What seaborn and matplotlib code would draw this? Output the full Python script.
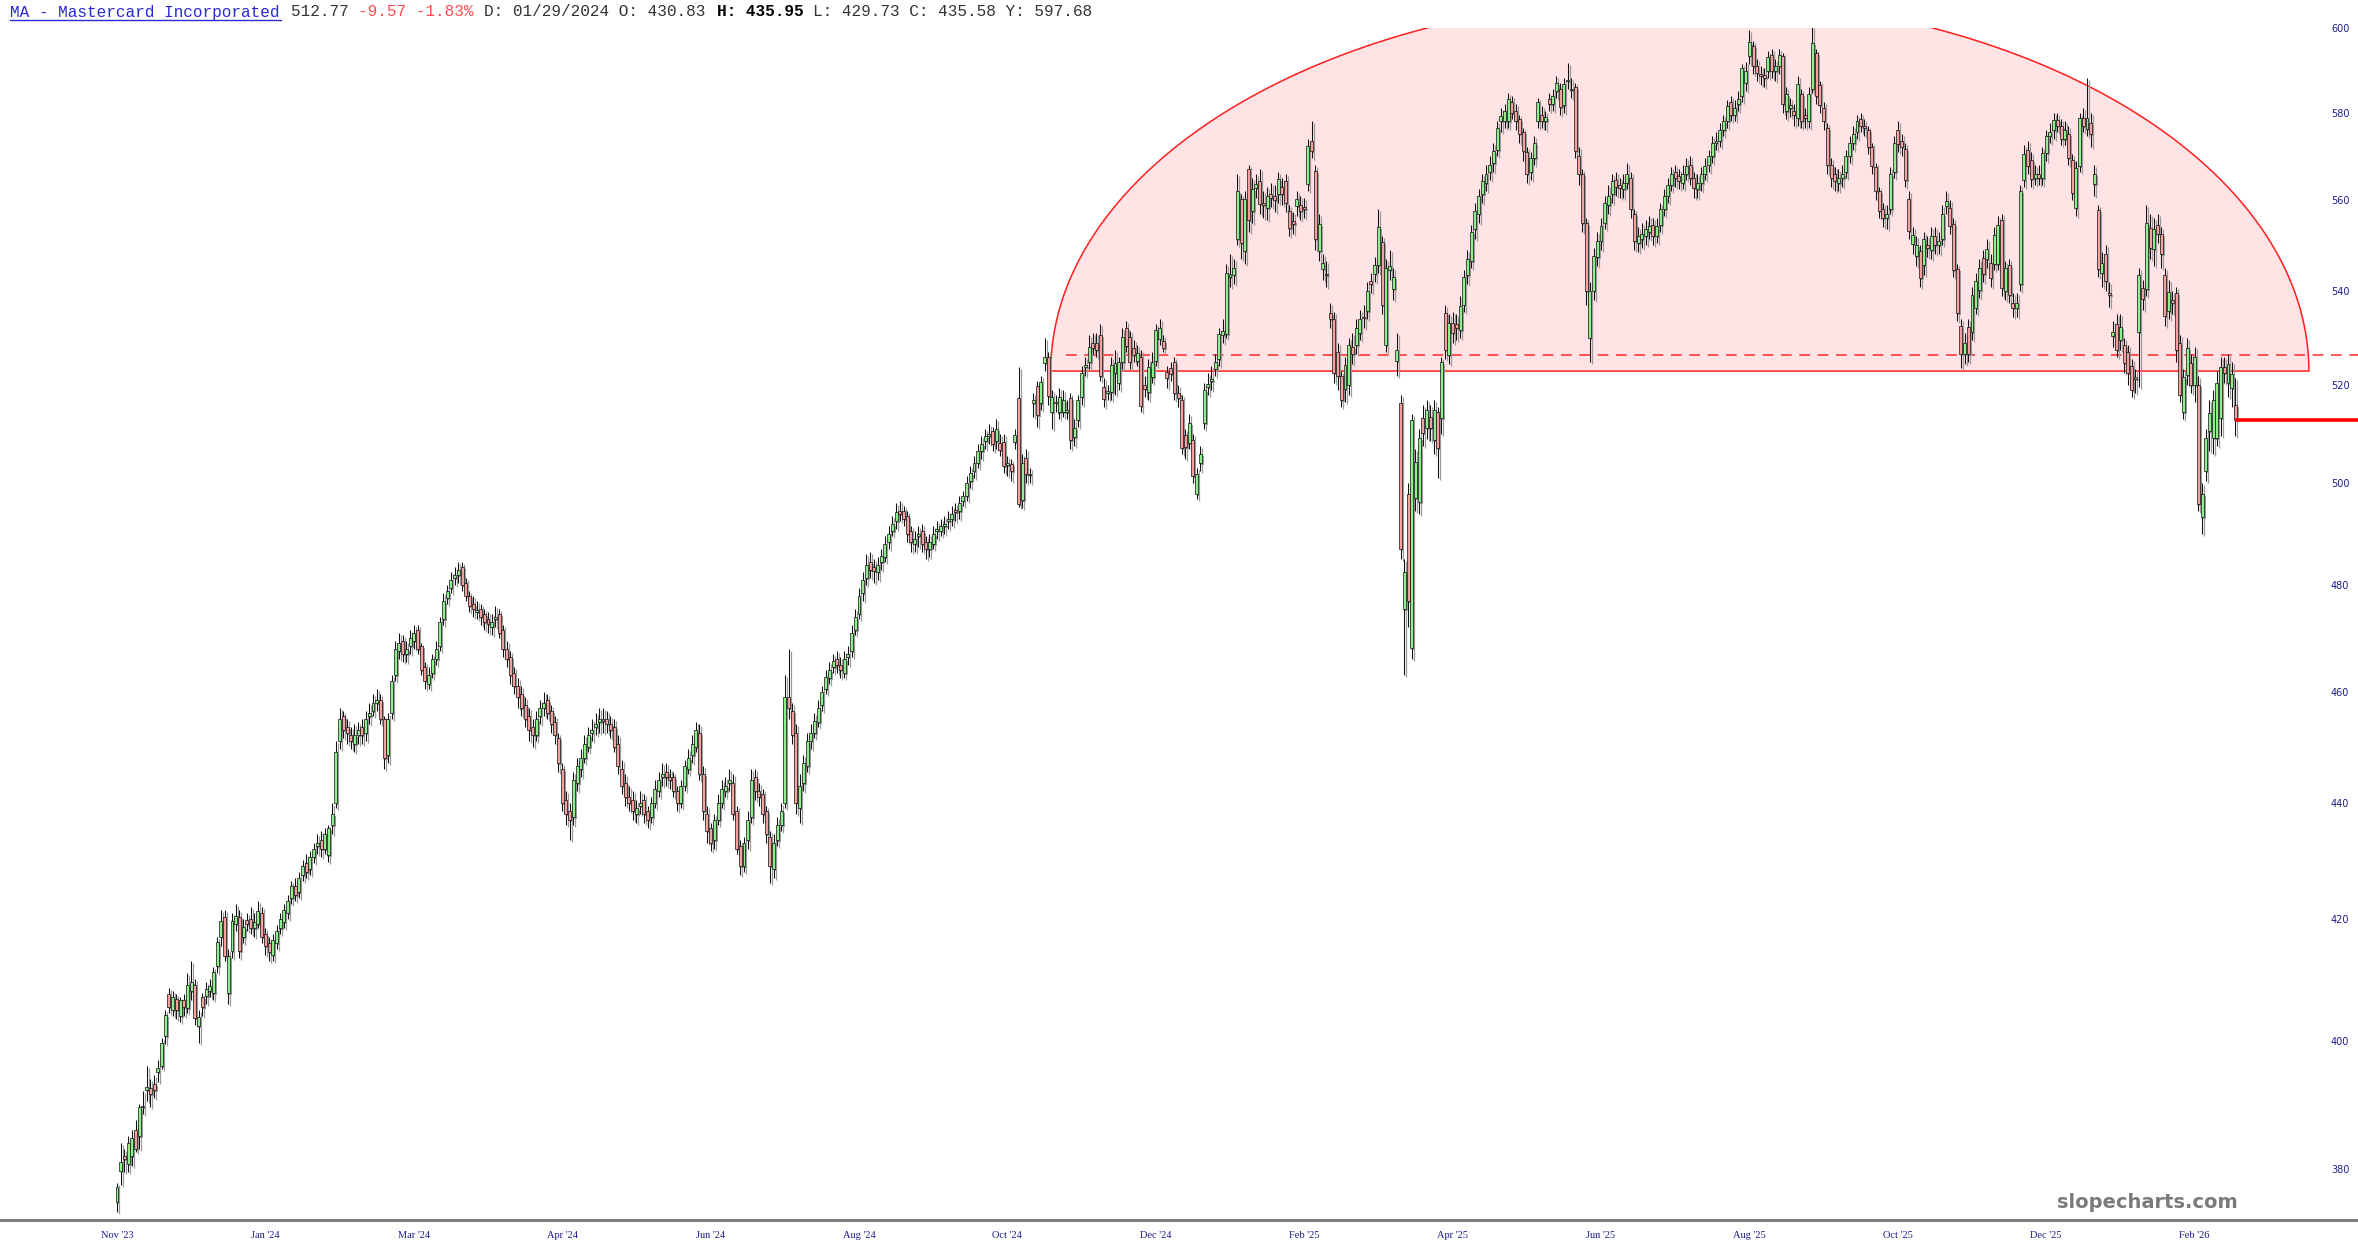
import numpy as np
import matplotlib
matplotlib.use("Agg")
import matplotlib.pyplot as plt
import matplotlib.transforms as mtransforms
from matplotlib.ticker import NullLocator
import seaborn as sns

# daily candles, Nov '23 .. Feb '26
opens = [
    375.0, 379.6, 382.0, 380.8, 382.0, 386.0, 385.0, 389.5, 392.2, 392.5,
    393.2, 395.0, 396.0, 400.8, 407.5, 405.0, 406.7, 404.0, 406.5, 405.3,
    408.0, 409.1, 402.3, 407.0, 407.2, 408.0, 407.8, 412.1, 416.9, 420.3,
    407.8, 414.6, 419.1, 420.3, 417.0, 419.8, 420.0, 418.5, 419.1, 421.0,
    417.5, 416.0, 414.0, 416.0, 418.5, 419.5, 421.0, 423.5, 425.5, 424.5,
    427.5, 429.5, 428.5, 430.5, 432.5, 433.5, 432.0, 430.8, 436.0, 440.0,
    451.0, 455.5, 453.5, 452.0, 450.5, 452.0, 453.5, 452.5, 455.5, 456.5,
    458.0, 458.5, 455.0, 448.5, 456.0, 463.0, 467.5, 469.5, 467.0, 468.5,
    469.5, 471.5, 468.5, 464.5, 461.5, 463.5, 466.0, 468.5, 473.5, 477.5,
    479.5, 481.5, 482.0, 483.5, 480.5, 478.0, 476.5, 475.0, 475.5, 474.5,
    473.5, 472.0, 473.5, 474.5, 471.5, 468.0, 466.5, 463.5, 461.0, 459.5,
    457.5, 455.5, 453.5, 452.0, 455.5, 457.0, 458.5, 456.5, 454.5, 451.5,
    446.0, 440.5, 438.5, 437.5, 443.5, 446.0, 448.0, 450.0, 452.5, 453.5,
    454.5, 455.0, 455.0, 454.0, 453.5, 450.5, 446.0, 443.5, 441.0, 440.5,
    438.0, 439.5, 440.5, 438.5, 437.5, 440.0, 442.0, 444.5, 445.5, 444.5,
    444.5, 442.0, 440.0, 443.0, 446.0, 448.5, 450.0, 452.5, 445.0, 438.0,
    435.5, 433.5, 437.0, 440.0, 442.0, 443.5, 443.5, 438.5, 432.5, 429.0,
    433.5, 437.5, 444.5, 442.0, 441.5, 438.5, 434.0, 428.5, 433.5, 436.0,
    440.0, 459.0, 456.5, 452.5, 439.0, 443.5, 446.5, 451.0, 452.5, 454.5,
    457.5, 460.5, 462.5, 464.5, 466.0, 465.0, 463.5, 466.5, 467.5, 471.5,
    474.5, 478.5, 481.5, 484.5, 483.5, 482.5, 484.5, 485.5, 488.5, 490.5,
    492.5, 494.5, 494.5, 493.5, 490.5, 488.0, 489.5, 490.5, 488.5, 487.0,
    488.0, 490.5, 490.5, 491.5, 492.5, 493.0, 494.5, 494.5, 496.5, 497.5,
    500.5, 502.5, 504.0, 506.5, 508.5, 509.5, 510.5, 508.5, 508.2, 508.4,
    503.6, 503.8, 508.4, 517.3, 496.6, 505.2, 501.6, 516.4, 519.8, 516.3,
    524.7, 526.0, 514.5, 516.3, 514.5, 514.5, 514.5, 517.3, 509.4, 512.8,
    517.6, 523.8, 524.9, 528.9, 529.0, 530.6, 519.6, 518.5, 518.6, 522.5,
    520.5, 524.9, 532.1, 530.2, 527.8, 525.2, 526.0, 520.0, 518.6, 521.8,
    525.2, 529.8, 529.4, 522.8, 523.6, 524.9, 518.4, 516.9, 509.8, 508.2,
    508.8, 497.8, 504.0, 512.3, 519.6, 521.0, 523.5, 525.6, 530.5, 530.9,
    543.0, 543.4, 551.4, 560.3, 548.8, 567.0, 557.6, 562.8, 564.4, 559.5,
    558.3, 561.5, 561.0, 561.5, 563.0, 564.4, 557.6, 555.4, 558.7, 559.0,
    558.5, 563.7, 573.4, 566.6, 548.8, 544.9, 543.8, 535.2, 534.0, 527.0,
    521.9, 519.2, 520.1, 528.0, 528.4, 531.0, 534.5, 535.8, 542.3, 543.8,
    545.6, 550.7, 528.4, 544.5, 540.5, 525.2, 516.3, 475.5, 497.8, 468.1,
    497.0, 496.2, 513.2, 511.2, 513.5, 508.8, 514.5, 513.2, 535.2, 526.3,
    533.1, 533.0, 531.6, 537.0, 543.5, 546.5, 553.5, 557.0, 561.5, 564.0,
    566.5, 568.5, 571.5, 578.0, 578.0, 578.0, 582.5, 580.5, 578.5, 575.5,
    571.0, 566.5, 569.5, 578.0, 579.5, 578.0, 583.2, 582.0, 585.0, 585.6,
    581.9, 587.4, 585.3, 586.0, 570.0, 566.0, 555.0, 530.0, 540.0, 547.5,
    551.0, 555.0, 559.0, 561.5, 564.5, 563.5, 562.5, 564.0, 565.0, 557.0,
    550.5, 551.5, 552.0, 553.0, 554.5, 552.0, 554.5, 558.0, 561.0, 563.5,
    566.5, 565.5, 564.0, 566.0, 568.0, 565.0, 562.5, 564.0, 566.0, 568.0,
    570.0, 573.0, 573.5, 576.0, 578.0, 582.5, 579.5, 582.0, 583.8, 586.9,
    593.3, 595.7, 590.9, 589.0, 588.8, 589.7, 593.5, 589.7, 590.9, 593.3,
    580.5, 581.0, 580.5, 578.7, 584.3, 579.5, 578.0, 585.5, 594.0, 586.4,
    581.0, 576.5, 568.0, 566.0, 564.0, 565.0, 566.5, 570.0, 573.0, 575.5,
    578.5, 577.0, 576.0, 572.0, 567.5, 562.0, 558.0, 556.0, 558.0, 566.5,
    576.0, 573.5, 571.6, 560.3, 550.2, 547.7, 548.8, 545.6, 550.0, 549.0,
    552.0, 550.0, 551.5, 558.7, 558.2, 554.7, 544.9, 532.5, 526.6, 532.3,
    531.2, 536.4, 540.3, 547.3, 546.9, 546.2, 546.0, 546.0, 555.5, 540.0,
    545.6, 537.5, 536.4, 541.6, 564.6, 571.5, 569.2, 565.0, 566.0, 565.0,
    570.6, 574.5, 575.9, 578.2, 577.0, 574.0, 575.0, 569.2, 558.2, 567.7,
    578.7, 576.2, 577.6, 563.7, 557.8, 544.0, 548.1, 539.7, 530.4, 533.0,
    529.5, 528.4, 527.0, 524.0, 521.8, 531.2, 540.7, 540.5, 553.8, 549.2,
    554.5, 552.5, 543.4, 535.8, 538.0, 539.5, 528.9, 514.5, 522.2, 524.7,
    520.0, 520.0, 493.3, 502.4, 510.6, 509.2, 509.2, 513.2, 523.8, 520.6,
    519.4, 515.9,
]
closes = [
    377.2, 381.0, 381.5, 383.9, 384.8, 383.0, 389.5, 389.7, 392.7, 391.5,
    392.2, 395.6, 399.6, 404.2, 405.5, 407.0, 404.9, 406.5, 405.5, 409.1,
    409.6, 403.7, 403.9, 405.5, 408.4, 408.8, 411.1, 416.1, 419.6, 413.8,
    413.8, 419.6, 420.5, 414.6, 418.6, 419.1, 418.5, 419.5, 421.4, 417.0,
    415.5, 414.5, 416.5, 418.0, 420.0, 421.5, 423.0, 425.5, 424.0, 427.0,
    429.0, 428.0, 430.5, 432.0, 433.0, 432.0, 434.5, 435.6, 438.0, 449.0,
    455.0, 453.0, 452.5, 451.0, 452.0, 453.0, 452.0, 455.0, 456.0, 458.0,
    458.5, 455.0, 448.0, 455.0, 462.0, 468.0, 469.0, 467.0, 468.0, 470.0,
    471.0, 468.0, 464.0, 462.0, 463.0, 466.0, 468.0, 473.0, 477.0, 479.0,
    481.0, 482.0, 483.0, 480.0, 478.0, 476.0, 475.5, 475.0, 474.0, 473.0,
    472.6, 473.0, 474.0, 471.0, 468.0, 466.0, 463.0, 461.0, 459.0, 457.0,
    455.0, 453.0, 452.0, 455.0, 457.0, 458.0, 456.0, 454.0, 452.0, 447.0,
    440.0, 438.0, 437.0, 444.0, 446.5, 448.0, 450.5, 452.0, 453.0, 454.0,
    455.0, 454.6, 454.0, 453.0, 450.0, 446.5, 443.0, 441.0, 440.0, 438.5,
    439.0, 440.0, 438.0, 437.0, 440.0, 442.5, 444.0, 445.0, 444.5, 444.0,
    442.0, 440.0, 443.0, 446.5, 448.0, 450.5, 453.0, 445.0, 438.5, 435.0,
    433.0, 437.0, 440.0, 442.5, 443.0, 444.0, 438.0, 432.0, 429.0, 433.0,
    437.0, 444.0, 442.0, 441.0, 438.0, 434.5, 429.0, 433.0, 436.0, 438.5,
    459.0, 457.0, 452.0, 440.0, 443.0, 447.0, 451.0, 452.5, 454.6, 457.0,
    460.0, 462.8, 464.0, 465.6, 465.0, 464.0, 466.0, 467.0, 471.0, 474.0,
    478.0, 481.0, 484.0, 483.0, 482.7, 484.0, 485.6, 488.0, 490.0, 492.0,
    494.4, 494.0, 493.0, 490.0, 488.5, 489.0, 490.0, 488.0, 487.0, 488.5,
    490.0, 491.0, 491.5, 492.0, 493.0, 494.0, 494.4, 496.0, 497.4, 500.0,
    502.0, 504.0, 506.5, 508.0, 509.5, 510.0, 508.0, 511.0, 506.8, 503.4,
    504.2, 502.4, 509.8, 495.8, 504.2, 501.8, 501.8, 517.0, 513.9, 520.7,
    526.0, 517.8, 517.6, 516.5, 517.6, 517.0, 515.0, 508.8, 511.2, 516.9,
    522.6, 524.2, 528.0, 527.8, 527.5, 522.0, 517.1, 518.6, 524.2, 524.6,
    524.9, 530.2, 528.2, 524.9, 526.3, 526.7, 515.7, 519.2, 523.8, 524.9,
    531.6, 532.0, 527.9, 521.5, 522.4, 518.4, 517.3, 507.2, 507.4, 512.3,
    501.4, 501.8, 506.0, 519.0, 520.4, 521.2, 524.9, 530.9, 531.5, 544.0,
    543.8, 545.0, 562.1, 550.6, 560.3, 555.7, 562.6, 563.7, 559.2, 559.0,
    561.0, 560.5, 560.0, 564.9, 561.5, 559.4, 553.8, 554.7, 560.3, 557.6,
    558.0, 572.3, 571.1, 551.4, 554.7, 546.2, 543.4, 534.1, 522.6, 521.9,
    517.0, 524.2, 528.4, 526.5, 532.0, 534.0, 534.3, 540.1, 541.6, 545.6,
    554.0, 537.0, 545.0, 545.5, 543.0, 527.4, 487.0, 482.6, 477.0, 512.8,
    504.4, 509.2, 510.2, 514.9, 511.2, 514.9, 507.2, 524.9, 527.4, 533.1,
    531.0, 532.0, 536.9, 543.0, 547.0, 553.0, 557.7, 561.0, 564.4, 566.0,
    568.0, 571.2, 576.4, 579.2, 580.3, 583.2, 580.0, 578.1, 575.0, 571.2,
    566.0, 569.5, 573.0, 582.5, 578.0, 579.0, 582.0, 584.0, 587.0, 581.3,
    586.7, 587.6, 585.6, 571.2, 566.0, 555.0, 540.0, 540.0, 547.7, 551.0,
    554.3, 559.3, 561.0, 564.4, 563.0, 562.7, 564.0, 566.0, 558.0, 551.0,
    552.0, 552.6, 553.5, 554.3, 552.0, 554.3, 558.0, 561.0, 563.5, 566.0,
    565.0, 564.4, 566.0, 567.8, 565.0, 562.7, 564.0, 566.0, 567.8, 570.0,
    572.9, 573.5, 576.0, 578.0, 581.5, 579.5, 581.0, 583.2, 590.4, 589.7,
    596.7, 590.9, 589.2, 588.5, 588.2, 593.0, 589.7, 591.0, 593.5, 582.0,
    584.3, 581.8, 579.5, 586.7, 578.0, 578.8, 584.3, 596.4, 583.8, 581.9,
    578.0, 568.0, 565.0, 564.4, 565.0, 566.0, 570.0, 573.0, 575.0, 578.0,
    577.0, 576.4, 572.0, 567.8, 562.0, 557.7, 556.0, 557.0, 566.0, 573.0,
    572.7, 572.0, 564.6, 553.2, 552.2, 550.1, 542.9, 551.4, 549.5, 552.0,
    550.0, 551.0, 557.0, 559.8, 554.2, 544.5, 535.4, 526.6, 528.9, 526.6,
    539.2, 542.2, 545.1, 543.8, 549.2, 542.8, 552.2, 554.5, 540.7, 545.0,
    539.1, 536.4, 537.5, 562.1, 570.4, 567.7, 564.8, 566.0, 565.0, 570.6,
    574.5, 575.5, 578.2, 577.0, 574.0, 576.0, 569.5, 561.6, 567.2, 578.7,
    577.0, 578.7, 575.1, 565.9, 544.9, 546.2, 542.3, 539.1, 531.2, 527.4,
    532.3, 524.6, 522.6, 519.0, 521.4, 543.4, 538.4, 554.9, 549.4, 553.6,
    552.5, 548.1, 534.7, 539.9, 537.5, 527.4, 518.0, 521.8, 527.8, 520.0,
    526.0, 495.8, 497.8, 509.2, 514.3, 517.0, 520.6, 523.8, 522.6, 524.5,
    522.3, 512.77,
]
highs = [
    377.8, 384.0, 383.0, 385.0, 386.0, 387.5, 390.0, 392.0, 396.0, 394.0,
    394.5, 397.0, 400.5, 405.0, 408.5, 408.0, 407.5, 407.0, 407.5, 411.0,
    413.0, 410.0, 405.0, 407.8, 409.5, 410.0, 412.0, 417.0, 421.5, 421.5,
    415.0, 421.0, 422.5, 421.5, 420.0, 421.0, 422.0, 421.0, 423.0, 422.0,
    418.5, 417.0, 417.5, 419.0, 421.0, 422.5, 424.0, 426.5, 427.0, 428.0,
    430.0, 431.0, 431.5, 433.0, 434.5, 435.0, 435.5, 436.0, 440.0, 451.0,
    457.0, 456.5, 455.0, 453.5, 454.0, 454.5, 455.0, 456.5, 458.0, 459.5,
    460.5, 459.5, 455.5, 456.0, 463.0, 469.5, 471.0, 470.5, 469.5, 471.5,
    472.5, 472.5, 469.0, 465.5, 464.5, 467.0, 469.5, 474.0, 478.5, 480.0,
    482.5, 483.5, 484.5, 484.5, 481.5, 479.0, 478.0, 477.0, 476.5, 475.5,
    475.0, 474.5, 476.0, 475.5, 472.5, 469.5, 467.5, 464.5, 462.5, 461.0,
    459.0, 457.0, 455.0, 456.5, 458.5, 460.0, 459.5, 457.5, 455.5, 452.5,
    447.0, 442.0, 440.0, 445.5, 448.0, 449.5, 452.0, 453.5, 455.0, 456.0,
    457.0, 457.0, 456.5, 455.5, 455.0, 452.0, 447.5, 445.0, 443.0, 442.0,
    440.5, 442.0, 441.5, 439.5, 441.0, 444.0, 445.5, 447.0, 447.0, 446.0,
    445.5, 443.0, 444.0, 447.5, 449.5, 452.0, 454.5, 454.0, 446.5, 439.5,
    436.5, 438.0, 441.5, 444.0, 444.5, 446.0, 445.0, 439.5, 433.5, 434.0,
    438.5, 446.0, 446.0, 443.5, 442.5, 439.5, 435.0, 434.5, 437.5, 440.0,
    463.0, 468.0, 458.0, 454.0, 445.0, 448.5, 452.5, 454.0, 456.0, 458.5,
    461.0, 464.0, 465.5, 467.0, 467.5, 466.5, 467.5, 468.5, 472.5, 475.5,
    479.5, 482.5, 486.0, 486.5, 485.0, 485.5, 487.0, 489.5, 491.5, 493.5,
    496.0, 496.5, 495.5, 494.5, 491.5, 490.5, 491.5, 492.0, 489.5, 490.0,
    491.5, 492.5, 493.0, 493.5, 494.5, 495.5, 496.0, 497.5, 498.5, 501.5,
    503.5, 505.5, 508.0, 509.5, 511.0, 512.0, 511.5, 513.0, 510.0, 510.0,
    505.5, 505.0, 511.0, 523.8, 506.0, 507.0, 503.0, 518.5, 521.0, 522.0,
    530.0, 527.0, 519.0, 518.0, 519.5, 519.0, 517.0, 518.5, 513.0, 518.0,
    524.0, 526.0, 530.5, 531.0, 531.0, 533.0, 521.5, 520.0, 526.0, 527.5,
    526.0, 532.0, 533.5, 531.5, 529.5, 528.5, 527.5, 522.0, 525.5, 527.0,
    533.0, 534.0, 530.5, 524.0, 525.0, 526.0, 520.0, 518.0, 511.0, 514.0,
    510.0, 503.0, 507.5, 520.5, 522.5, 524.0, 526.5, 532.0, 534.0, 546.0,
    548.0, 547.0, 566.0, 561.5, 562.0, 568.0, 565.0, 566.0, 567.0, 562.0,
    563.0, 564.0, 563.5, 566.5, 565.0, 566.0, 559.0, 557.5, 562.0, 561.0,
    560.5, 574.0, 578.0, 568.0, 557.0, 548.0, 546.5, 537.5, 535.5, 529.0,
    523.0, 526.0, 530.0, 531.0, 534.0, 536.0, 537.0, 542.0, 544.0, 547.5,
    558.0, 552.0, 547.0, 549.0, 545.0, 531.0, 518.0, 485.0, 500.0, 514.0,
    507.0, 511.0, 516.0, 517.0, 516.0, 517.0, 515.5, 526.0, 537.0, 535.0,
    535.5, 535.0, 539.0, 544.5, 549.0, 554.5, 559.5, 562.5, 566.0, 568.0,
    570.0, 573.0, 578.0, 581.0, 582.0, 584.5, 584.0, 582.0, 579.5, 576.5,
    572.0, 571.0, 574.5, 583.5, 581.5, 580.5, 584.5, 585.5, 588.5, 587.0,
    588.0, 591.6, 588.0, 587.0, 572.0, 567.0, 556.0, 542.0, 549.5, 553.0,
    556.0, 561.0, 563.5, 566.0, 566.5, 565.0, 566.0, 568.5, 566.5, 558.0,
    554.0, 555.0, 555.5, 556.5, 556.0, 556.0, 559.5, 562.5, 565.0, 567.5,
    568.0, 567.0, 568.0, 569.5, 570.0, 566.5, 566.0, 567.5, 569.5, 571.5,
    574.5, 575.5, 577.5, 579.5, 583.0, 584.0, 583.0, 585.0, 591.5, 592.0,
    599.6, 597.0, 592.5, 591.0, 590.5, 594.5, 595.0, 592.5, 595.0, 594.0,
    586.0, 583.5, 582.0, 588.5, 585.5, 581.0, 586.0, 600.5, 595.0, 587.5,
    582.5, 577.5, 569.5, 567.5, 567.0, 568.0, 571.5, 574.5, 577.0, 579.5,
    580.0, 578.5, 577.0, 573.0, 568.5, 563.0, 559.5, 559.0, 567.5, 574.5,
    578.0, 575.0, 573.0, 562.0, 554.0, 552.0, 550.0, 553.0, 552.0, 554.0,
    554.0, 553.0, 559.0, 562.0, 560.0, 556.0, 546.0, 534.0, 531.0, 534.0,
    541.0, 544.0, 547.0, 549.0, 551.5, 548.0, 554.0, 556.5, 557.0, 546.5,
    547.0, 539.5, 539.5, 563.5, 572.5, 573.5, 571.0, 568.0, 568.0, 572.0,
    576.0, 577.5, 580.0, 580.0, 578.5, 578.0, 577.0, 570.5, 569.0, 580.0,
    581.0, 588.0, 580.0, 568.0, 559.0, 548.5, 550.0, 542.0, 533.5, 535.0,
    535.0, 530.0, 528.5, 525.5, 523.5, 545.0, 542.5, 559.0, 557.0, 556.0,
    557.0, 554.0, 545.0, 542.5, 540.0, 541.0, 530.5, 523.5, 530.0, 526.5,
    528.0, 522.0, 500.0, 511.0, 517.0, 519.0, 523.0, 526.0, 526.0, 526.5,
    525.0, 521.5,
]
lows = [
    373.5, 377.5, 379.5, 379.5, 380.5, 382.5, 383.0, 388.5, 390.5, 389.5,
    391.0, 393.5, 395.5, 399.5, 404.5, 404.0, 403.5, 403.0, 404.0, 404.5,
    406.5, 402.5, 399.6, 404.0, 406.0, 407.0, 406.5, 411.0, 415.5, 413.0,
    406.0, 413.5, 418.0, 413.5, 416.0, 418.0, 417.5, 417.0, 418.5, 416.0,
    414.0, 413.0, 413.0, 415.0, 417.5, 418.5, 420.0, 422.5, 423.0, 423.5,
    426.5, 427.0, 427.5, 429.5, 431.0, 430.5, 431.0, 429.7, 434.5, 439.0,
    449.5, 451.5, 450.5, 449.5, 449.0, 450.5, 450.5, 451.0, 454.0, 455.5,
    456.5, 454.0, 446.0, 447.0, 455.0, 462.0, 466.0, 465.5, 465.5, 467.0,
    468.0, 467.0, 463.0, 460.5, 460.5, 462.5, 465.0, 467.5, 472.5, 476.5,
    478.5, 480.0, 480.5, 479.0, 477.0, 475.0, 474.0, 473.5, 472.5, 471.5,
    471.0, 470.5, 472.0, 470.0, 466.5, 464.5, 461.5, 459.5, 457.0, 455.5,
    453.5, 451.0, 450.0, 451.0, 454.0, 455.5, 455.0, 452.5, 450.5, 445.5,
    438.5, 436.0, 433.5, 436.0, 442.0, 444.5, 447.0, 449.0, 451.0, 452.0,
    452.5, 452.5, 452.5, 451.5, 449.0, 445.0, 441.5, 439.5, 438.5, 437.0,
    436.5, 438.0, 436.5, 435.5, 436.5, 439.0, 441.0, 443.0, 443.0, 442.5,
    441.0, 438.5, 439.0, 442.0, 445.0, 447.0, 449.0, 444.0, 437.0, 433.0,
    431.5, 432.0, 436.0, 439.0, 441.0, 442.0, 437.0, 431.0, 427.5, 428.0,
    432.0, 436.5, 440.5, 439.5, 436.5, 433.0, 426.0, 427.0, 432.5, 435.0,
    439.0, 455.0, 450.5, 438.0, 436.5, 442.0, 445.5, 449.5, 451.5, 453.5,
    456.5, 459.5, 461.5, 463.5, 463.5, 462.5, 462.5, 465.0, 466.5, 470.5,
    473.5, 477.0, 480.0, 481.5, 480.5, 481.0, 483.0, 484.5, 487.0, 489.5,
    491.0, 492.5, 491.5, 488.5, 486.5, 486.5, 487.5, 486.5, 485.0, 485.5,
    487.0, 489.0, 489.5, 490.0, 491.0, 491.5, 492.5, 493.0, 495.5, 496.5,
    499.0, 501.0, 503.0, 505.0, 507.0, 508.0, 506.5, 507.0, 505.5, 502.0,
    501.5, 500.5, 507.0, 495.2, 495.0, 500.0, 500.0, 513.5, 511.5, 515.0,
    523.0, 516.0, 511.0, 514.5, 513.0, 513.5, 513.0, 507.0, 507.5, 511.5,
    516.0, 522.0, 523.5, 526.5, 526.0, 521.0, 515.5, 517.0, 517.0, 518.0,
    519.0, 523.5, 527.0, 523.5, 525.0, 524.0, 514.5, 517.5, 517.0, 520.5,
    524.0, 528.5, 527.0, 519.5, 521.0, 517.0, 515.5, 506.0, 505.0, 507.0,
    500.0, 496.8, 502.5, 511.0, 518.0, 519.0, 522.0, 524.0, 529.0, 530.0,
    541.0, 541.5, 550.0, 547.0, 546.0, 553.0, 555.0, 560.5, 557.0, 556.0,
    555.5, 558.5, 557.5, 559.5, 559.0, 557.5, 552.0, 552.5, 556.5, 555.5,
    556.0, 562.0, 569.5, 549.0, 546.5, 542.5, 541.0, 532.0, 520.5, 519.0,
    515.5, 516.5, 518.0, 524.5, 526.5, 529.5, 532.0, 534.0, 539.5, 542.0,
    544.0, 535.0, 527.0, 542.5, 538.0, 522.0, 485.0, 463.0, 472.0, 466.0,
    494.5, 494.0, 507.5, 509.0, 508.5, 506.0, 501.0, 510.0, 525.5, 524.5,
    529.0, 529.5, 530.0, 535.5, 541.5, 545.0, 551.5, 555.0, 559.5, 562.0,
    564.5, 566.5, 570.0, 575.5, 576.5, 576.5, 578.5, 576.0, 573.0, 569.0,
    564.0, 564.5, 568.0, 576.5, 576.5, 576.0, 580.5, 580.5, 583.5, 579.5,
    580.0, 585.5, 583.5, 569.5, 563.5, 553.0, 537.0, 525.0, 538.0, 545.5,
    549.0, 553.5, 557.0, 559.5, 561.0, 560.5, 560.5, 562.5, 556.0, 549.0,
    548.5, 549.5, 550.0, 551.5, 550.0, 550.5, 553.0, 556.5, 559.5, 562.0,
    563.0, 562.5, 562.5, 564.5, 563.5, 560.5, 560.5, 562.0, 564.5, 566.5,
    568.5, 571.5, 572.0, 574.5, 576.5, 578.0, 578.0, 580.5, 582.5, 585.0,
    591.5, 589.0, 587.5, 586.5, 586.0, 588.0, 588.0, 587.5, 589.0, 580.0,
    578.5, 579.0, 577.0, 577.0, 576.5, 576.5, 576.5, 584.5, 582.0, 580.0,
    576.0, 566.0, 563.0, 562.0, 562.0, 563.0, 565.0, 568.5, 571.5, 574.0,
    575.5, 574.5, 570.5, 566.0, 560.0, 556.0, 554.0, 553.5, 557.0, 565.0,
    571.0, 570.0, 563.0, 551.5, 548.0, 545.5, 541.0, 543.5, 547.5, 547.0,
    548.0, 548.0, 550.0, 557.0, 552.5, 543.0, 533.5, 523.6, 524.5, 525.0,
    529.5, 535.0, 538.5, 542.0, 545.0, 541.0, 544.5, 544.5, 539.0, 538.0,
    537.5, 534.5, 534.5, 540.0, 563.0, 566.0, 563.0, 563.5, 563.5, 563.5,
    569.0, 573.0, 574.0, 575.5, 572.5, 572.5, 568.0, 560.0, 556.5, 566.5,
    575.5, 574.5, 572.0, 561.0, 543.0, 541.0, 540.0, 536.5, 528.0, 526.0,
    527.5, 522.5, 520.0, 517.5, 518.5, 519.6, 536.0, 539.0, 547.0, 545.5,
    550.5, 545.0, 532.5, 534.0, 535.0, 525.0, 516.5, 513.0, 520.0, 518.5,
    516.5, 494.5, 489.9, 500.5, 506.5, 506.0, 507.5, 509.5, 520.5, 517.5,
    515.5, 509.5,
]

month_labels = ["Nov '23", "Jan '24", "Mar '24", "Apr '24", "Jun '24", "Aug '24",
                "Oct '24", "Dec '24", "Feb '25", "Apr '25", "Jun '25", "Aug '25",
                "Oct '25", "Dec '25", "Feb '26"]
price_ticks = [380, 400, 420, 440, 460, 480, 500, 520, 540, 560, 580, 600]

header_title = "MA - Mastercard Incorporated"
header_last = "512.77"
header_change = "-9.57 -1.83%"
header_info = "D: 01/29/2024 O: 430.83"
header_high = "H: 435.95"
header_rest = "L: 429.73 C: 435.58 Y: 597.68"

o = np.array(opens)
c = np.array(closes)
h = np.maximum(np.array(highs), np.maximum(o, c))
l = np.minimum(np.array(lows), np.minimum(o, c))
idx = np.arange(len(c))
up = c >= o

sns.set_style("white")
plt.rcParams["font.family"] = ["DejaVu Sans"]

W, H = 2358, 1260
fig = plt.figure(figsize=(W / 100, H / 100), dpi=100)
ax = fig.add_axes([0, 40 / H, 1, 1192 / H])
ax.set_facecolor("white")

# x range: one candle = 3.71 px, first candle at x=117 px
xmin, xmax = -117 / 3.71, (W - 117) / 3.71
ax.set_xlim(xmin, xmax)
ax.set_yscale("log")
ax.set_ylim(372.3, 599.76)

# rounded-top zone (drawn in chart space as half ellipse)
theta = np.linspace(0, np.pi, 400)
ex = 421.25 + 169.55 * np.cos(theta)
ey = 523.0 * np.exp(0.15 * np.sin(theta))
ax.fill(ex, ey, facecolor="#ffe3e5", edgecolor="#ff1f1f", lw=1.1, zorder=1)
ax.hlines(526.4, 255.8, xmax, colors="#ff2a2a", lw=1.1,
          linestyles=(0, (7, 5)), zorder=1.5)

# candle shadows
shadow = mtransforms.offset_copy(ax.transData, fig=fig, x=2, y=-2, units="dots")
lo_body = np.minimum(o, c)
hi_body = np.maximum(o, c)
body_h = np.maximum(hi_body - lo_body, 0.25)
sw = ax.vlines(idx, l, h, colors="#9a9a9a", lw=0.9, zorder=2)
sw.set_transform(shadow)
sb = ax.bar(idx, body_h, bottom=lo_body, width=0.8, color="#9a9a9a",
            linewidth=0, zorder=2)
for p in sb:
    p.set_transform(shadow)

# candles
ax.vlines(idx, l, h, colors="#111111", lw=0.75, zorder=3)
ax.bar(idx[up], body_h[up], bottom=lo_body[up], width=0.8, color="#8df08d",
       edgecolor="#111111", linewidth=0.5, zorder=4)
ax.bar(idx[~up], body_h[~up], bottom=lo_body[~up], width=0.8, color="#f7a0a0",
       edgecolor="#111111", linewidth=0.5, zorder=4)

# last price line
ax.hlines(c[-1], idx[-1], xmax, colors="#ff0000", lw=2.6, zorder=5)

for s in ["top", "left", "right"]:
    ax.spines[s].set_visible(False)
ax.spines["bottom"].set_color("#808080")
ax.spines["bottom"].set_linewidth(2.2)

ax.set_xticks(np.arange(len(month_labels)) * 40, month_labels)
ax.tick_params(axis="x", length=0, pad=8, labelsize=7.5, labelcolor="#1c1c8a")
for t in ax.get_xticklabels():
    t.set_family("Liberation Serif")

ax.yaxis.set_minor_locator(NullLocator())
ax.set_yticks(price_ticks, [str(v) for v in price_ticks])
ax.yaxis.tick_right()
ax.tick_params(axis="y", length=0, pad=-19.5, labelsize=7, labelcolor="#1c1c8a")
ax.grid(False)

# header line (monospace, placed char by char)
cw = 9.68
def htext(col, s, **kw):
    fig.text((10 + col * cw) / W, 1 - 16.5 / H, s, family="Liberation Mono",
             fontsize=11.6, va="baseline", ha="left", **kw)

htext(0, header_title, color="#2a2ad4")
fig.add_artist(plt.Line2D([10 / W, (10 + len(header_title) * cw) / W],
                          [1 - 19.5 / H, 1 - 19.5 / H], color="#2a2ad4", lw=1.0))
htext(29, header_last, color="#333333")
htext(36, header_change, color="#ff4d4d")
htext(49, header_info, color="#333333")
htext(73, header_high, color="#000000", weight="bold")
htext(83, header_rest, color="#333333")

fig.text(2147 / W, 1 - 1202 / H, "slopecharts.com", ha="center", va="center",
         fontsize=14, weight="bold", color="#7a7a7a")

fig.savefig("out.png", dpi=100)
